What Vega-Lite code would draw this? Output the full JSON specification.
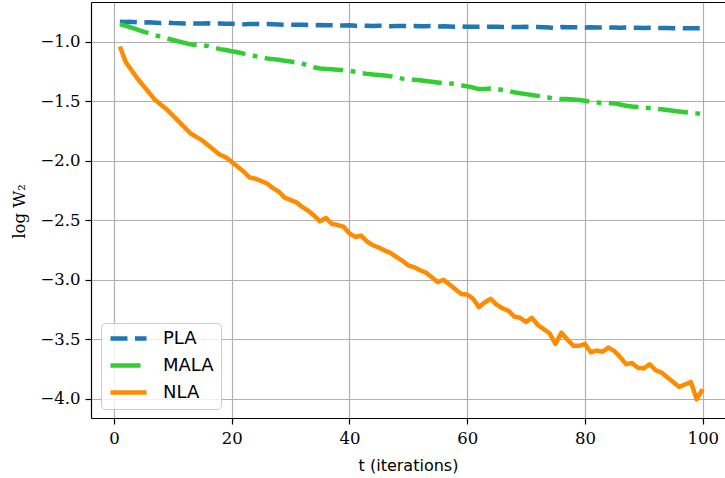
{
  "$schema": "https://vega.github.io/schema/vega-lite/v6.json",
  "autosize": {"type": "none"},
  "padding": {"left": 91, "top": 2, "right": 0, "bottom": 60},
  "width": 634,
  "height": 416,
  "background": "white",
  "config": {"view": {"stroke": null}},
  "data": {"values": [
    {"t":1,"s":"PLA","v":-0.832},{"t":2,"s":"PLA","v":-0.834},{"t":3,"s":"PLA","v":-0.833},{"t":4,"s":"PLA","v":-0.836},{"t":5,"s":"PLA","v":-0.838},
    {"t":6,"s":"PLA","v":-0.837},{"t":7,"s":"PLA","v":-0.840},{"t":8,"s":"PLA","v":-0.842},{"t":9,"s":"PLA","v":-0.839},{"t":10,"s":"PLA","v":-0.843},
    {"t":11,"s":"PLA","v":-0.844},{"t":12,"s":"PLA","v":-0.846},{"t":13,"s":"PLA","v":-0.845},{"t":14,"s":"PLA","v":-0.847},{"t":15,"s":"PLA","v":-0.846},
    {"t":16,"s":"PLA","v":-0.845},{"t":17,"s":"PLA","v":-0.847},{"t":18,"s":"PLA","v":-0.846},{"t":19,"s":"PLA","v":-0.849},{"t":20,"s":"PLA","v":-0.848},
    {"t":21,"s":"PLA","v":-0.852},{"t":22,"s":"PLA","v":-0.854},{"t":23,"s":"PLA","v":-0.851},{"t":24,"s":"PLA","v":-0.850},{"t":25,"s":"PLA","v":-0.852},
    {"t":26,"s":"PLA","v":-0.851},{"t":27,"s":"PLA","v":-0.853},{"t":28,"s":"PLA","v":-0.855},{"t":29,"s":"PLA","v":-0.857},{"t":30,"s":"PLA","v":-0.856},
    {"t":31,"s":"PLA","v":-0.858},{"t":32,"s":"PLA","v":-0.857},{"t":33,"s":"PLA","v":-0.859},{"t":34,"s":"PLA","v":-0.861},{"t":35,"s":"PLA","v":-0.860},
    {"t":36,"s":"PLA","v":-0.862},{"t":37,"s":"PLA","v":-0.861},{"t":38,"s":"PLA","v":-0.863},{"t":39,"s":"PLA","v":-0.864},{"t":40,"s":"PLA","v":-0.862},
    {"t":41,"s":"PLA","v":-0.865},{"t":42,"s":"PLA","v":-0.864},{"t":43,"s":"PLA","v":-0.866},{"t":44,"s":"PLA","v":-0.867},{"t":45,"s":"PLA","v":-0.865},
    {"t":46,"s":"PLA","v":-0.866},{"t":47,"s":"PLA","v":-0.869},{"t":48,"s":"PLA","v":-0.868},{"t":49,"s":"PLA","v":-0.867},{"t":50,"s":"PLA","v":-0.869},
    {"t":51,"s":"PLA","v":-0.868},{"t":52,"s":"PLA","v":-0.870},{"t":53,"s":"PLA","v":-0.869},{"t":54,"s":"PLA","v":-0.868},{"t":55,"s":"PLA","v":-0.871},
    {"t":56,"s":"PLA","v":-0.870},{"t":57,"s":"PLA","v":-0.872},{"t":58,"s":"PLA","v":-0.873},{"t":59,"s":"PLA","v":-0.871},{"t":60,"s":"PLA","v":-0.874},
    {"t":61,"s":"PLA","v":-0.873},{"t":62,"s":"PLA","v":-0.875},{"t":63,"s":"PLA","v":-0.874},{"t":64,"s":"PLA","v":-0.873},{"t":65,"s":"PLA","v":-0.875},
    {"t":66,"s":"PLA","v":-0.876},{"t":67,"s":"PLA","v":-0.874},{"t":68,"s":"PLA","v":-0.876},{"t":69,"s":"PLA","v":-0.877},{"t":70,"s":"PLA","v":-0.875},
    {"t":71,"s":"PLA","v":-0.877},{"t":72,"s":"PLA","v":-0.876},{"t":73,"s":"PLA","v":-0.878},{"t":74,"s":"PLA","v":-0.880},{"t":75,"s":"PLA","v":-0.888},
    {"t":76,"s":"PLA","v":-0.877},{"t":77,"s":"PLA","v":-0.878},{"t":78,"s":"PLA","v":-0.879},{"t":79,"s":"PLA","v":-0.878},{"t":80,"s":"PLA","v":-0.880},
    {"t":81,"s":"PLA","v":-0.879},{"t":82,"s":"PLA","v":-0.881},{"t":83,"s":"PLA","v":-0.880},{"t":84,"s":"PLA","v":-0.879},{"t":85,"s":"PLA","v":-0.881},
    {"t":86,"s":"PLA","v":-0.882},{"t":87,"s":"PLA","v":-0.881},{"t":88,"s":"PLA","v":-0.883},{"t":89,"s":"PLA","v":-0.882},{"t":90,"s":"PLA","v":-0.884},
    {"t":91,"s":"PLA","v":-0.883},{"t":92,"s":"PLA","v":-0.884},{"t":93,"s":"PLA","v":-0.885},{"t":94,"s":"PLA","v":-0.884},{"t":95,"s":"PLA","v":-0.886},
    {"t":96,"s":"PLA","v":-0.885},{"t":97,"s":"PLA","v":-0.887},{"t":98,"s":"PLA","v":-0.886},{"t":99,"s":"PLA","v":-0.887},{"t":100,"s":"PLA","v":-0.886},

    {"t":1,"s":"MALA","v":-0.852},{"t":2,"s":"MALA","v":-0.866},{"t":3,"s":"MALA","v":-0.882},{"t":4,"s":"MALA","v":-0.898},{"t":5,"s":"MALA","v":-0.915},
    {"t":6,"s":"MALA","v":-0.930},{"t":7,"s":"MALA","v":-0.945},{"t":8,"s":"MALA","v":-0.958},{"t":9,"s":"MALA","v":-0.972},{"t":10,"s":"MALA","v":-0.985},
    {"t":11,"s":"MALA","v":-0.998},{"t":12,"s":"MALA","v":-1.010},{"t":13,"s":"MALA","v":-1.022},{"t":14,"s":"MALA","v":-1.027},{"t":15,"s":"MALA","v":-1.030},
    {"t":16,"s":"MALA","v":-1.036},{"t":17,"s":"MALA","v":-1.050},{"t":18,"s":"MALA","v":-1.062},{"t":19,"s":"MALA","v":-1.070},{"t":20,"s":"MALA","v":-1.080},
    {"t":21,"s":"MALA","v":-1.088},{"t":22,"s":"MALA","v":-1.100},{"t":23,"s":"MALA","v":-1.113},{"t":24,"s":"MALA","v":-1.120},{"t":25,"s":"MALA","v":-1.130},
    {"t":26,"s":"MALA","v":-1.140},{"t":27,"s":"MALA","v":-1.146},{"t":28,"s":"MALA","v":-1.152},{"t":29,"s":"MALA","v":-1.160},{"t":30,"s":"MALA","v":-1.166},
    {"t":31,"s":"MALA","v":-1.175},{"t":32,"s":"MALA","v":-1.185},{"t":33,"s":"MALA","v":-1.200},{"t":34,"s":"MALA","v":-1.215},{"t":35,"s":"MALA","v":-1.225},
    {"t":36,"s":"MALA","v":-1.228},{"t":37,"s":"MALA","v":-1.232},{"t":38,"s":"MALA","v":-1.236},{"t":39,"s":"MALA","v":-1.240},{"t":40,"s":"MALA","v":-1.245},
    {"t":41,"s":"MALA","v":-1.252},{"t":42,"s":"MALA","v":-1.262},{"t":43,"s":"MALA","v":-1.270},{"t":44,"s":"MALA","v":-1.276},{"t":45,"s":"MALA","v":-1.279},
    {"t":46,"s":"MALA","v":-1.283},{"t":47,"s":"MALA","v":-1.290},{"t":48,"s":"MALA","v":-1.300},{"t":49,"s":"MALA","v":-1.310},{"t":50,"s":"MALA","v":-1.316},
    {"t":51,"s":"MALA","v":-1.320},{"t":52,"s":"MALA","v":-1.324},{"t":53,"s":"MALA","v":-1.330},{"t":54,"s":"MALA","v":-1.336},{"t":55,"s":"MALA","v":-1.342},
    {"t":56,"s":"MALA","v":-1.348},{"t":57,"s":"MALA","v":-1.350},{"t":58,"s":"MALA","v":-1.355},{"t":59,"s":"MALA","v":-1.365},{"t":60,"s":"MALA","v":-1.375},
    {"t":61,"s":"MALA","v":-1.385},{"t":62,"s":"MALA","v":-1.398},{"t":63,"s":"MALA","v":-1.398},{"t":64,"s":"MALA","v":-1.393},{"t":65,"s":"MALA","v":-1.398},
    {"t":66,"s":"MALA","v":-1.405},{"t":67,"s":"MALA","v":-1.415},{"t":68,"s":"MALA","v":-1.425},{"t":69,"s":"MALA","v":-1.432},{"t":70,"s":"MALA","v":-1.440},
    {"t":71,"s":"MALA","v":-1.447},{"t":72,"s":"MALA","v":-1.455},{"t":73,"s":"MALA","v":-1.462},{"t":74,"s":"MALA","v":-1.470},{"t":75,"s":"MALA","v":-1.479},
    {"t":76,"s":"MALA","v":-1.481},{"t":77,"s":"MALA","v":-1.481},{"t":78,"s":"MALA","v":-1.485},{"t":79,"s":"MALA","v":-1.490},{"t":80,"s":"MALA","v":-1.496},
    {"t":81,"s":"MALA","v":-1.505},{"t":82,"s":"MALA","v":-1.511},{"t":83,"s":"MALA","v":-1.513},{"t":84,"s":"MALA","v":-1.515},{"t":85,"s":"MALA","v":-1.518},
    {"t":86,"s":"MALA","v":-1.528},{"t":87,"s":"MALA","v":-1.538},{"t":88,"s":"MALA","v":-1.545},{"t":89,"s":"MALA","v":-1.549},{"t":90,"s":"MALA","v":-1.553},
    {"t":91,"s":"MALA","v":-1.557},{"t":92,"s":"MALA","v":-1.562},{"t":93,"s":"MALA","v":-1.568},{"t":94,"s":"MALA","v":-1.574},{"t":95,"s":"MALA","v":-1.580},
    {"t":96,"s":"MALA","v":-1.586},{"t":97,"s":"MALA","v":-1.592},{"t":98,"s":"MALA","v":-1.598},{"t":99,"s":"MALA","v":-1.602},{"t":100,"s":"MALA","v":-1.608},

    {"t":1,"s":"NLA","v":-1.040},{"t":2,"s":"NLA","v":-1.170},{"t":3,"s":"NLA","v":-1.240},{"t":4,"s":"NLA","v":-1.310},{"t":5,"s":"NLA","v":-1.370},
    {"t":6,"s":"NLA","v":-1.430},{"t":7,"s":"NLA","v":-1.490},{"t":8,"s":"NLA","v":-1.530},{"t":9,"s":"NLA","v":-1.570},{"t":10,"s":"NLA","v":-1.620},
    {"t":11,"s":"NLA","v":-1.670},{"t":12,"s":"NLA","v":-1.720},{"t":13,"s":"NLA","v":-1.770},{"t":14,"s":"NLA","v":-1.800},{"t":15,"s":"NLA","v":-1.830},
    {"t":16,"s":"NLA","v":-1.870},{"t":17,"s":"NLA","v":-1.910},{"t":18,"s":"NLA","v":-1.950},{"t":19,"s":"NLA","v":-1.970},{"t":20,"s":"NLA","v":-2.010},
    {"t":21,"s":"NLA","v":-2.050},{"t":22,"s":"NLA","v":-2.090},{"t":23,"s":"NLA","v":-2.140},{"t":24,"s":"NLA","v":-2.150},{"t":25,"s":"NLA","v":-2.170},
    {"t":26,"s":"NLA","v":-2.190},{"t":27,"s":"NLA","v":-2.230},{"t":28,"s":"NLA","v":-2.260},{"t":29,"s":"NLA","v":-2.310},{"t":30,"s":"NLA","v":-2.330},
    {"t":31,"s":"NLA","v":-2.350},{"t":32,"s":"NLA","v":-2.390},{"t":33,"s":"NLA","v":-2.420},{"t":34,"s":"NLA","v":-2.460},{"t":35,"s":"NLA","v":-2.510},
    {"t":36,"s":"NLA","v":-2.480},{"t":37,"s":"NLA","v":-2.530},{"t":38,"s":"NLA","v":-2.540},{"t":39,"s":"NLA","v":-2.555},{"t":40,"s":"NLA","v":-2.610},
    {"t":41,"s":"NLA","v":-2.640},{"t":42,"s":"NLA","v":-2.630},{"t":43,"s":"NLA","v":-2.680},{"t":44,"s":"NLA","v":-2.710},{"t":45,"s":"NLA","v":-2.730},
    {"t":46,"s":"NLA","v":-2.755},{"t":47,"s":"NLA","v":-2.775},{"t":48,"s":"NLA","v":-2.810},{"t":49,"s":"NLA","v":-2.840},{"t":50,"s":"NLA","v":-2.880},
    {"t":51,"s":"NLA","v":-2.895},{"t":52,"s":"NLA","v":-2.920},{"t":53,"s":"NLA","v":-2.940},{"t":54,"s":"NLA","v":-2.980},{"t":55,"s":"NLA","v":-3.020},
    {"t":56,"s":"NLA","v":-3.000},{"t":57,"s":"NLA","v":-3.040},{"t":58,"s":"NLA","v":-3.080},{"t":59,"s":"NLA","v":-3.120},{"t":60,"s":"NLA","v":-3.125},
    {"t":61,"s":"NLA","v":-3.160},{"t":62,"s":"NLA","v":-3.230},{"t":63,"s":"NLA","v":-3.190},{"t":64,"s":"NLA","v":-3.160},{"t":65,"s":"NLA","v":-3.210},
    {"t":66,"s":"NLA","v":-3.240},{"t":67,"s":"NLA","v":-3.260},{"t":68,"s":"NLA","v":-3.310},{"t":69,"s":"NLA","v":-3.320},{"t":70,"s":"NLA","v":-3.355},
    {"t":71,"s":"NLA","v":-3.320},{"t":72,"s":"NLA","v":-3.380},{"t":73,"s":"NLA","v":-3.415},{"t":74,"s":"NLA","v":-3.450},{"t":75,"s":"NLA","v":-3.540},
    {"t":76,"s":"NLA","v":-3.445},{"t":77,"s":"NLA","v":-3.500},{"t":78,"s":"NLA","v":-3.555},{"t":79,"s":"NLA","v":-3.555},{"t":80,"s":"NLA","v":-3.540},
    {"t":81,"s":"NLA","v":-3.610},{"t":82,"s":"NLA","v":-3.595},{"t":83,"s":"NLA","v":-3.605},{"t":84,"s":"NLA","v":-3.570},{"t":85,"s":"NLA","v":-3.600},
    {"t":86,"s":"NLA","v":-3.650},{"t":87,"s":"NLA","v":-3.710},{"t":88,"s":"NLA","v":-3.700},{"t":89,"s":"NLA","v":-3.740},{"t":90,"s":"NLA","v":-3.745},
    {"t":91,"s":"NLA","v":-3.710},{"t":92,"s":"NLA","v":-3.760},{"t":93,"s":"NLA","v":-3.780},{"t":94,"s":"NLA","v":-3.820},{"t":95,"s":"NLA","v":-3.860},
    {"t":96,"s":"NLA","v":-3.900},{"t":97,"s":"NLA","v":-3.880},{"t":98,"s":"NLA","v":-3.860},{"t":99,"s":"NLA","v":-4.005},{"t":100,"s":"NLA","v":-3.920}
  ]},
  "encoding": {
    "y": {"field": "v", "type": "quantitative",
      "scale": {"domain": [-4.162, -0.666], "nice": false, "zero": false},
      "axis": {"orient": "left", "values": [-4, -3.5, -3, -2.5, -2, -1.5, -1], "format": ".1f",
        "labelFont": "DejaVu Serif", "labelFontSize": 16.5, "labelColor": "#000000", "labelPadding": 5,
        "tickColor": "#000000", "tickSize": 6, "tickWidth": 1.2,
        "domainColor": "#000000", "domainWidth": 1.2,
        "grid": true, "gridColor": "#b0b0b0", "gridWidth": 1.2,
        "title": "log W₂", "titleFont": "DejaVu Serif", "titleFontSize": 16.5, "titleFontWeight": "normal",
        "titleColor": "#000000", "titleAngle": -90, "titleX": -72, "titleY": 209, "titleAlign": "center", "titleBaseline": "middle"}},
    "color": {"field": "s", "type": "nominal",
      "scale": {"domain": ["PLA", "MALA", "NLA"], "range": ["#1f77b4", "#32cd32", "#ff8c00"]},
      "legend": {
        "orient": "none", "legendX": 10, "legendY": 321, "title": null,
        "padding": 7, "fillColor": "rgba(255,255,255,0.8)", "strokeColor": "#cccccc", "cornerRadius": 4,
        "symbolType": "stroke", "symbolSize": 1300, "symbolStrokeWidth": 4.5, "symbolOffset": 0,
        "clipHeight": 17, "rowPadding": 8,
        "labelFont": "DejaVu Sans", "labelFontSize": 18, "labelColor": "#000000", "labelOffset": 14
      }},
    "strokeDash": {"field": "s", "type": "nominal",
      "scale": {"domain": ["PLA", "MALA", "NLA"], "range": [[17, 7.5], [30, 7.5, 4.7, 7.5], [1, 0]]},
      "legend": {
        "orient": "none", "legendX": 10, "legendY": 321, "title": null,
        "padding": 7, "fillColor": "rgba(255,255,255,0.8)", "strokeColor": "#cccccc", "cornerRadius": 4,
        "symbolType": "stroke", "symbolSize": 1300, "symbolStrokeWidth": 4.5, "symbolOffset": 0,
        "clipHeight": 17, "rowPadding": 8,
        "labelFont": "DejaVu Sans", "labelFontSize": 18, "labelColor": "#000000", "labelOffset": 14
      }}
  },
  "layer": [
    {
      "transform": [{"filter": "datum.s != 'NLA'"}],
      "mark": {"type": "line", "strokeWidth": 4.5, "strokeJoin": "round"},
      "encoding": {
        "x": {"field": "t", "type": "quantitative",
          "scale": {"domain": [-3.9, 103.8], "nice": false, "zero": false},
          "axis": {"orient": "bottom", "values": [0, 20, 40, 60, 80, 100], "format": "d",
            "labelFont": "DejaVu Serif", "labelFontSize": 16.5, "labelColor": "#000000", "labelPadding": 6,
            "tickColor": "#000000", "tickSize": 6, "tickWidth": 1.2,
            "domainColor": "#000000", "domainWidth": 1.2,
            "grid": true, "gridColor": "#b0b0b0", "gridWidth": 1.2,
            "title": "t (iterations)", "titleFont": "DejaVu Sans", "titleFontSize": 16, "titleFontWeight": "normal",
            "titleColor": "#000000", "titleY": 47, "titleBaseline": "middle"}}
      }
    },
    {
      "transform": [{"filter": "datum.s == 'NLA'"}],
      "mark": {"type": "line", "strokeWidth": 4.5, "strokeJoin": "round"},
      "encoding": {
        "x": {"field": "t", "type": "quantitative",
          "scale": {"domain": [-3.9, 103.8], "nice": false, "zero": false},
          "axis": {"orient": "top", "labels": false, "ticks": false, "grid": false, "title": null,
            "domain": true, "domainColor": "#000000", "domainWidth": 1.2}}
      }
    }
  ],
  "resolve": {"axis": {"x": "independent"}}
}
